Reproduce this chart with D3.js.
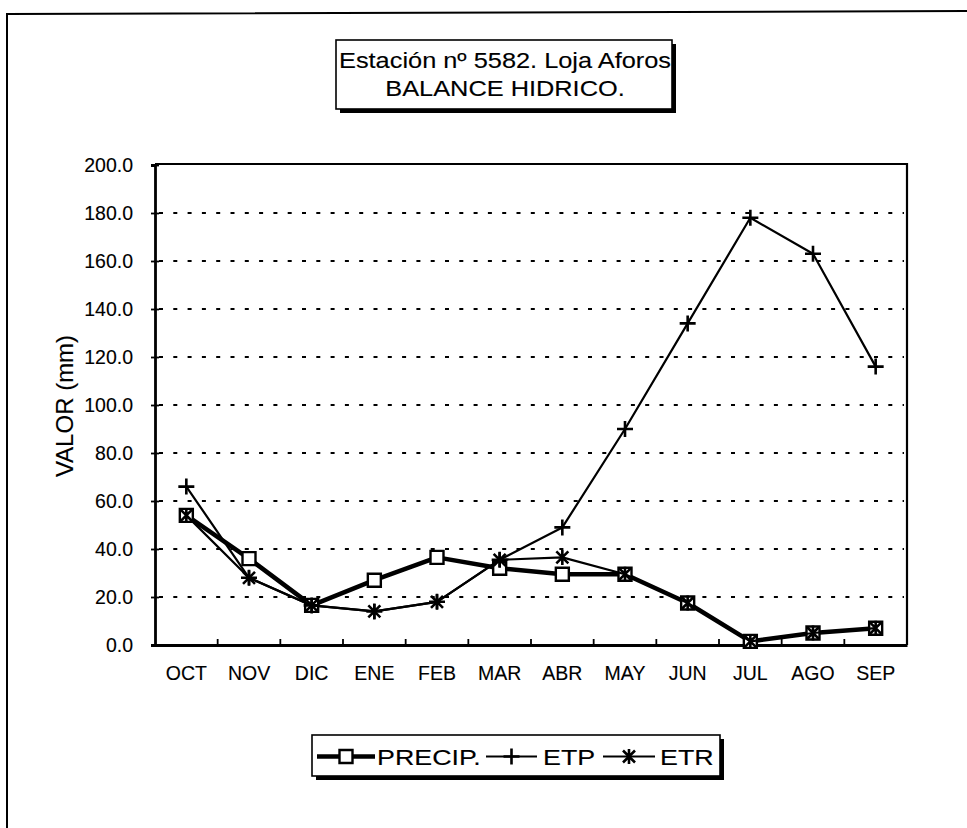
<!DOCTYPE html>
<html>
<head>
<meta charset="utf-8">
<script src="https://cdn.jsdelivr.net/npm/d3@7"></script>
<style>
  body { margin: 0; background: #fff; }
  svg text { font-family: "Liberation Sans", Arial, sans-serif; fill: #000; stroke: #000; stroke-width: 0.12px; }
</style>
</head>
<body>
<div id="chart"></div>
<script>
// data
const months = ['OCT', 'NOV', 'DIC', 'ENE', 'FEB', 'MAR', 'ABR', 'MAY', 'JUN', 'JUL', 'AGO', 'SEP'];
const precip = [54, 36, 16.5, 27, 36.5, 32, 29.5, 29.5, 17.5, 1.5, 5, 7];
const etp = [66, 28, 16.5, 14, 18, 35.5, 49, 90, 134, 178, 163, 116];
const etr = [54, 28, 16.5, 14, 18, 35.5, 36.5, 29.5, 17.5, 1.5, 5, 7];
const yTicks = [0, 20, 40, 60, 80, 100, 120, 140, 160, 180, 200];
const titleLines = ['Estación nº 5582. Loja Aforos', 'BALANCE HIDRICO.'];
const seriesNames = ['PRECIP.', 'ETP', 'ETR'];

const W = 967, H = 828;
const plot = { left: 155, right: 907, top: 164, bottom: 645 };

const svg = d3.select('#chart').append('svg')
    .attr('width', W)
    .attr('height', H);

// outer frame (open on right and bottom, like the scan)
svg.append('path')
    .attr('d', `M7,${H} L7,14 L${W},11`)
    .attr('fill', 'none')
    .attr('stroke', '#000')
    .attr('stroke-width', 2);

const x = d3.scaleBand().domain(months).range([plot.left, plot.right]);
const y = d3.scaleLinear().domain([0, 200]).range([plot.bottom, plot.top + 1]);
const cx = d => x(d) + x.bandwidth() / 2;

// dotted gridlines
svg.append('g')
  .selectAll('line')
  .data(yTicks.filter(v => v > 0 && v < 200))
  .join('line')
    .attr('x1', plot.left + 4)
    .attr('x2', plot.right - 3)
    .attr('y1', d => y(d))
    .attr('y2', d => y(d))
    .attr('stroke', '#000')
    .attr('stroke-width', 1.8)
    .attr('stroke-dasharray', '4,10.3');

// plot box top + right
svg.append('path')
    .attr('d', `M${plot.left},${plot.top} L${plot.right},${plot.top} L${plot.right},${plot.bottom}`)
    .attr('fill', 'none')
    .attr('stroke', '#000')
    .attr('stroke-width', 2.2);

// y axis
const yAxis = svg.append('g')
    .attr('transform', `translate(${plot.left},0)`)
    .call(d3.axisLeft(y).tickValues(yTicks).tickFormat(d3.format('.1f')).tickSize(4).tickPadding(18));
yAxis.select('.domain').attr('stroke-width', 2.8);
yAxis.selectAll('.tick line').attr('x1', 4).attr('stroke-width', 1.8);
yAxis.selectAll('text').style('font-size', '19.5px').attr('fill', '#000');

// x axis (labels centred on categories)
const xAxis = svg.append('g')
    .attr('transform', `translate(0,${plot.bottom})`)
    .call(d3.axisBottom(x).tickSize(0).tickPadding(21.5));
xAxis.select('.domain').attr('stroke-width', 2.8);
xAxis.selectAll('text').style('font-size', '19.5px').attr('fill', '#000');

// tick marks between categories, pointing up into the plot
svg.append('g')
  .selectAll('line')
  .data(months.slice(1))
  .join('line')
    .attr('x1', d => x(d))
    .attr('x2', d => x(d))
    .attr('y1', plot.bottom)
    .attr('y2', plot.bottom - 6)
    .attr('stroke', '#000')
    .attr('stroke-width', 1.8);

// y axis title
svg.append('text')
    .attr('transform', 'translate(73,406) rotate(-90)')
    .attr('text-anchor', 'middle')
    .style('font-size', '24px')
    .text('VALOR (mm)');

// markers
const squarePath = s => `M${-s / 2},${-s / 2}h${s}v${s}h${-s}Z`;
const plusPath = s => `M${-s / 2},0H${s / 2}M0,${-s / 2}V${s / 2}`;
const starPath = s => {
  const a = s / 2, b = s * 0.4;
  return `M0,${-a}V${a}M${-b},${-b}L${b},${b}M${-b},${b}L${b},${-b}`;
};

const series = [
  { name: seriesNames[0], values: precip, width: 4.5, marker: squarePath(13), fill: '#fff', mw: 2.4 },
  { name: seriesNames[1], values: etp, width: 2.2, marker: plusPath(16), fill: 'none', mw: 2.6 },
  { name: seriesNames[2], values: etr, width: 2.2, marker: starPath(15), fill: 'none', mw: 2.6 }
];

const line = d3.line()
    .x((d, i) => cx(months[i]))
    .y(d => y(d));

series.forEach(s => {
  const g = svg.append('g');
  g.append('path')
      .attr('d', line(s.values))
      .attr('fill', 'none')
      .attr('stroke', '#000')
      .attr('stroke-width', s.width)
      .attr('stroke-linejoin', 'round');
  g.selectAll('path.mk')
    .data(s.values)
    .join('path')
      .attr('class', 'mk')
      .attr('transform', (d, i) => `translate(${cx(months[i])},${y(d)})`)
      .attr('d', s.marker)
      .attr('fill', s.fill)
      .attr('stroke', '#000')
      .attr('stroke-width', s.mw);
});

// title box with drop shadow
const tb = { x: 336, y: 40, w: 336, h: 69 };
svg.append('rect')
    .attr('x', tb.x + 4).attr('y', tb.y + 4)
    .attr('width', tb.w).attr('height', tb.h)
    .attr('fill', '#000');
svg.append('rect')
    .attr('x', tb.x).attr('y', tb.y)
    .attr('width', tb.w).attr('height', tb.h)
    .attr('fill', '#fff')
    .attr('stroke', '#000')
    .attr('stroke-width', 1.6);
svg.append('g')
  .selectAll('text')
  .data(titleLines)
  .join('text')
    .attr('transform', (d, i) => `translate(${tb.x + tb.w / 2 + 1},${68 + i * 28}) scale(1.18,1)`)
    .attr('text-anchor', 'middle')
    .style('font-size', '21.5px')
    .text(d => d);

// legend box with drop shadow
const lb = { x: 312, y: 735, w: 408, h: 41 };
svg.append('rect')
    .attr('x', lb.x + 4).attr('y', lb.y + 4)
    .attr('width', lb.w).attr('height', lb.h)
    .attr('fill', '#000');
svg.append('rect')
    .attr('x', lb.x).attr('y', lb.y)
    .attr('width', lb.w).attr('height', lb.h)
    .attr('fill', '#fff')
    .attr('stroke', '#000')
    .attr('stroke-width', 1.6);

const legendPos = [
  { x1: 317, x2: 375, tx: 377 },
  { x1: 486, x2: 537, tx: 543 },
  { x1: 603, x2: 655, tx: 660 }
];
const ly = lb.y + lb.h / 2 + 1;
series.forEach((s, i) => {
  const p = legendPos[i];
  const g = svg.append('g');
  g.append('line')
      .attr('x1', p.x1).attr('x2', p.x2)
      .attr('y1', ly).attr('y2', ly)
      .attr('stroke', '#000')
      .attr('stroke-width', s.width);
  g.append('path')
      .attr('transform', `translate(${(p.x1 + p.x2) / 2},${ly})`)
      .attr('d', s.marker)
      .attr('fill', s.fill)
      .attr('stroke', '#000')
      .attr('stroke-width', s.mw);
  g.append('text')
      .attr('transform', `translate(${p.tx},${ly + 8}) scale(1.22,1)`)
      .style('font-size', '22px')
      .text(s.name);
});
</script>
</body>
</html>
